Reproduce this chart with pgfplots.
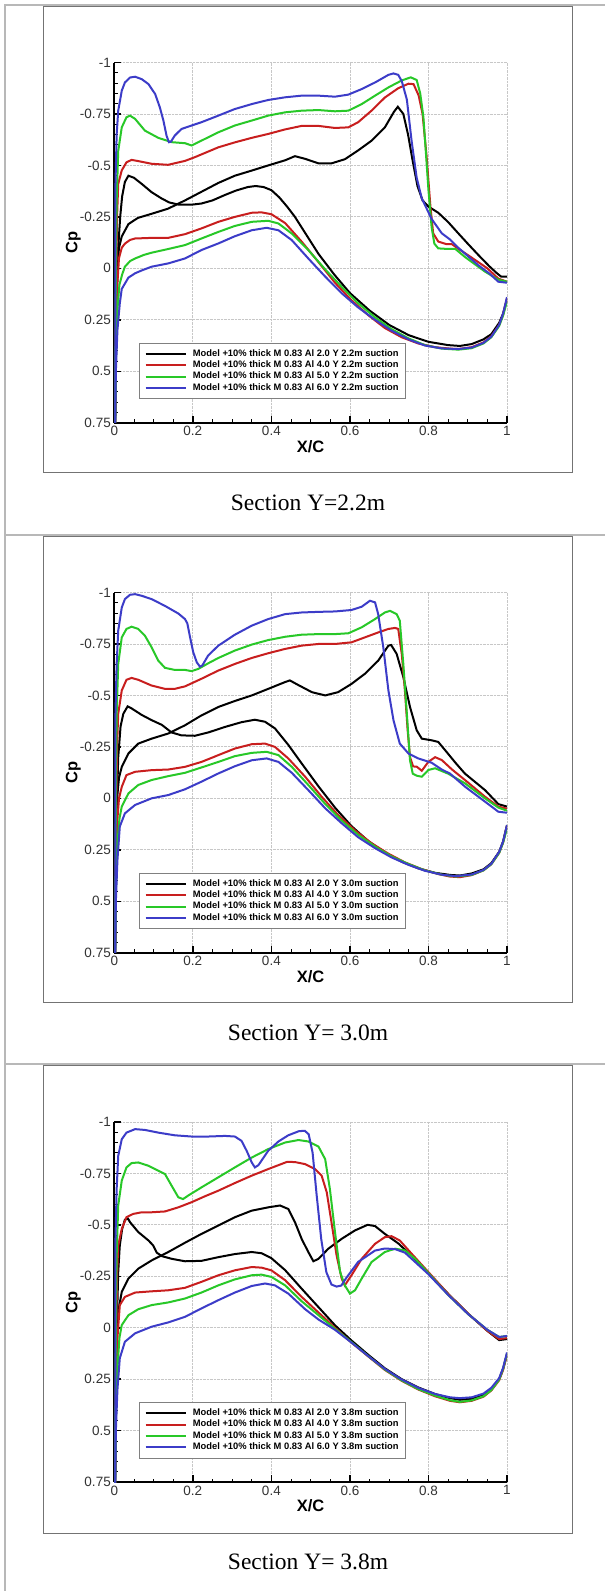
\documentclass[border=0pt]{standalone}
\usepackage{fontspec}
\setmainfont{Liberation Sans}
\newfontfamily\capfont{Liberation Serif}
\usepackage{pgfplots}
\pgfplotsset{compat=1.18}
\definecolor{cpred}{RGB}{200,30,30}
\definecolor{cpgreen}{RGB}{40,200,40}
\definecolor{cpblue}{RGB}{60,60,200}
\pgfplotsset{
  cpaxis/.style={
    scale only axis, width=392.7pt, height=360.2pt,
    xmin=0, xmax=1, ymin=-1, ymax=0.75, y dir=reverse,
    axis lines=left, axis line style={-, line width=2.2pt},
    tick align=inside,
    xtick={0,0.2,0.4,0.6,0.8,1}, xticklabels={0,0.2,0.4,0.6,0.8,1},
    ytick={-1,-0.75,-0.5,-0.25,0,0.25,0.5,0.75},
    yticklabels={-1,-0.75,-0.5,-0.25,0,0.25,0.5,0.75},
    minor x tick num=3, minor y tick num=4,
    major tick length=7pt, minor tick length=3.5pt,
    major tick style={line width=1.5pt, black},
    minor tick style={line width=0.8pt, black},
    grid=major, major grid style={densely dotted, black!22, line width=0.8pt},
    tick label style={font=\fontsize{13.5}{15}\selectfont, text=black!80},
    xlabel={\textbf{X/C}}, ylabel={\textbf{Cp}},
    label style={font=\fontsize{16.5}{18}\selectfont},
    xlabel style={at={(axis description cs:0.5,-0.0652)}, anchor=center},
    ylabel style={at={(axis description cs:-0.1044,0.5)}, anchor=center},
    every axis plot/.append style={line width=2pt},
    legend image code/.code={\draw[#1] (0pt,0pt) -- (40pt,0pt); \path (45pt,0pt);},
    legend cell align=left,
    legend style={at={(axis description cs:0.0637,0.2221)}, anchor=north west,
      draw=black!50, line width=0.6pt, fill=white, inner sep=5pt,
      font=\fontsize{9.36}{11.4}\selectfont\bfseries,
      nodes={inner sep=1.25pt, text height=6.9pt, text depth=2pt}},
  }
}
\begin{document}
\begin{tikzpicture}
\fill[white] (0pt,0pt) rectangle (605pt,-1591pt);
\path[use as bounding box] (0pt,0pt) rectangle (605pt,-1591pt);
% frames
\draw[black!55, line width=0.9pt] (43pt,-6pt) rectangle (572pt,-472.7pt);
\draw[black!55, line width=0.9pt] (43pt,-536pt) rectangle (572pt,-1002.7pt);
\draw[black!55, line width=0.9pt] (43pt,-1065pt) rectangle (572pt,-1533pt);
% table lines
\draw[black!28, line width=2pt] (4pt,-5pt) -- (605pt,-5pt);
\draw[black!28, line width=2pt] (5pt,-4pt) -- (5pt,-1591pt);
\draw[black!28, line width=2pt] (4pt,-535pt) -- (605pt,-535pt);
\draw[black!28, line width=2pt] (4pt,-1064pt) -- (605pt,-1064pt);
% captions
\node[font=\capfont\fontsize{23.5}{28}\selectfont] at (308pt,-503pt) {Section Y=2.2m};
\node[font=\capfont\fontsize{23.5}{28}\selectfont] at (308pt,-1033pt) {Section Y= 3.0m};
\node[font=\capfont\fontsize{23.5}{28}\selectfont] at (308pt,-1562pt) {Section Y= 3.8m};

% ---------------- Panel 1 ----------------
\begin{axis}[cpaxis, at={(310.65pt,-242.6pt)}, anchor=center]
\addplot[black] coordinates {(0.002,0.8) (0.004,0.3) (0.007,0.0) (0.012,-0.1) (0.019,-0.155) (0.036,-0.215) (0.06,-0.245) (0.095,-0.265) (0.137,-0.29) (0.18,-0.33) (0.205,-0.355) (0.265,-0.415) (0.307,-0.45) (0.35,-0.475) (0.392,-0.5) (0.435,-0.525) (0.46,-0.545) (0.486,-0.532) (0.52,-0.51) (0.553,-0.51) (0.587,-0.53) (0.621,-0.573) (0.655,-0.62) (0.689,-0.685) (0.712,-0.76) (0.722,-0.785) (0.736,-0.75) (0.748,-0.65) (0.76,-0.52) (0.772,-0.4) (0.785,-0.33) (0.8,-0.3) (0.825,-0.27) (0.85,-0.225) (0.876,-0.17) (0.9,-0.12) (0.927,-0.065) (0.955,-0.01) (0.975,0.025) (0.985,0.04) (1.0,0.04)};
\addlegendentry{Model +10\% thick M 0.83 Al 2.0 Y 2.2m suction}
\addplot[black, forget plot] coordinates {(0.002,0.8) (0.004,0.4) (0.007,0.1) (0.01,-0.1) (0.015,-0.25) (0.02,-0.35) (0.027,-0.42) (0.036,-0.45) (0.05,-0.44) (0.07,-0.41) (0.095,-0.37) (0.12,-0.34) (0.14,-0.32) (0.163,-0.31) (0.2,-0.31) (0.222,-0.315) (0.25,-0.33) (0.28,-0.355) (0.31,-0.378) (0.34,-0.395) (0.36,-0.4) (0.38,-0.395) (0.4,-0.38) (0.42,-0.345) (0.44,-0.3) (0.46,-0.25) (0.48,-0.19) (0.52,-0.07) (0.56,0.03) (0.6,0.12) (0.65,0.205) (0.7,0.275) (0.75,0.325) (0.8,0.357) (0.85,0.373) (0.88,0.377) (0.91,0.368) (0.94,0.345) (0.96,0.32) (0.98,0.265) (0.99,0.22) (1.0,0.15)};
\addplot[cpred] coordinates {(0.002,0.8) (0.004,0.2) (0.007,-0.25) (0.01,-0.41) (0.019,-0.476) (0.031,-0.515) (0.044,-0.527) (0.061,-0.521) (0.095,-0.508) (0.137,-0.503) (0.18,-0.522) (0.205,-0.54) (0.265,-0.588) (0.307,-0.612) (0.35,-0.634) (0.392,-0.653) (0.435,-0.675) (0.477,-0.692) (0.52,-0.692) (0.562,-0.682) (0.596,-0.685) (0.621,-0.71) (0.655,-0.766) (0.689,-0.83) (0.723,-0.875) (0.749,-0.897) (0.762,-0.895) (0.775,-0.84) (0.785,-0.75) (0.795,-0.55) (0.805,-0.3) (0.812,-0.17) (0.825,-0.13) (0.845,-0.118) (0.86,-0.117) (0.876,-0.095) (0.9,-0.065) (0.927,-0.03) (0.95,0.0) (0.978,0.05) (1.0,0.065)};
\addlegendentry{Model +10\% thick M 0.83 Al 4.0 Y 2.2m suction}
\addplot[cpred, forget plot] coordinates {(0.002,0.8) (0.004,0.4) (0.007,0.1) (0.012,-0.05) (0.019,-0.1) (0.027,-0.12) (0.04,-0.138) (0.053,-0.145) (0.095,-0.148) (0.137,-0.148) (0.18,-0.166) (0.222,-0.194) (0.265,-0.226) (0.307,-0.25) (0.35,-0.27) (0.375,-0.272) (0.4,-0.263) (0.435,-0.22) (0.477,-0.13) (0.52,-0.03) (0.562,0.07) (0.604,0.155) (0.647,0.228) (0.689,0.29) (0.732,0.335) (0.774,0.365) (0.817,0.383) (0.855,0.39) (0.876,0.392) (0.91,0.383) (0.94,0.36) (0.96,0.33) (0.98,0.275) (0.99,0.225) (1.0,0.145)};
\addplot[cpgreen] coordinates {(0.002,0.8) (0.004,0.0) (0.006,-0.33) (0.01,-0.57) (0.019,-0.685) (0.031,-0.734) (0.04,-0.742) (0.053,-0.726) (0.078,-0.669) (0.112,-0.634) (0.146,-0.613) (0.18,-0.608) (0.197,-0.597) (0.214,-0.613) (0.265,-0.661) (0.307,-0.694) (0.35,-0.718) (0.392,-0.742) (0.435,-0.758) (0.477,-0.766) (0.52,-0.769) (0.562,-0.763) (0.596,-0.766) (0.63,-0.798) (0.664,-0.839) (0.698,-0.879) (0.732,-0.913) (0.755,-0.928) (0.77,-0.915) (0.779,-0.85) (0.787,-0.737) (0.793,-0.575) (0.8,-0.38) (0.808,-0.2) (0.815,-0.12) (0.825,-0.097) (0.85,-0.094) (0.868,-0.095) (0.893,-0.055) (0.944,0.016) (0.978,0.055) (1.0,0.065)};
\addlegendentry{Model +10\% thick M 0.83 Al 5.0 Y 2.2m suction}
\addplot[cpgreen, forget plot] coordinates {(0.002,0.8) (0.004,0.45) (0.008,0.2) (0.013,0.08) (0.02,0.03) (0.027,-0.008) (0.04,-0.035) (0.053,-0.048) (0.075,-0.065) (0.095,-0.076) (0.1375,-0.094) (0.18,-0.113) (0.222,-0.145) (0.265,-0.177) (0.307,-0.206) (0.35,-0.226) (0.392,-0.231) (0.418,-0.218) (0.452,-0.169) (0.494,-0.089) (0.537,0.005) (0.579,0.09) (0.621,0.17) (0.664,0.238) (0.706,0.295) (0.749,0.34) (0.791,0.373) (0.834,0.39) (0.876,0.395) (0.91,0.388) (0.94,0.365) (0.96,0.335) (0.98,0.28) (0.99,0.23) (1.0,0.16)};
\addplot[cpblue] coordinates {(0.002,0.8) (0.003,-0.41) (0.006,-0.65) (0.01,-0.766) (0.019,-0.863) (0.027,-0.903) (0.04,-0.927) (0.053,-0.931) (0.07,-0.919) (0.087,-0.895) (0.104,-0.847) (0.116,-0.782) (0.125,-0.718) (0.133,-0.645) (0.139,-0.613) (0.144,-0.615) (0.154,-0.645) (0.171,-0.677) (0.197,-0.694) (0.222,-0.71) (0.265,-0.742) (0.307,-0.774) (0.35,-0.798) (0.392,-0.818) (0.435,-0.831) (0.477,-0.839) (0.52,-0.839) (0.562,-0.834) (0.596,-0.844) (0.63,-0.871) (0.664,-0.903) (0.698,-0.94) (0.711,-0.947) (0.723,-0.94) (0.732,-0.91) (0.745,-0.82) (0.757,-0.62) (0.77,-0.44) (0.783,-0.34) (0.808,-0.24) (0.834,-0.17) (0.855,-0.14) (0.876,-0.1) (0.9,-0.06) (0.927,-0.015) (0.955,0.025) (0.978,0.065) (1.0,0.07)};
\addlegendentry{Model +10\% thick M 0.83 Al 6.0 Y 2.2m suction}
\addplot[cpblue, forget plot] coordinates {(0.002,0.8) (0.004,0.5) (0.008,0.3) (0.014,0.17) (0.019,0.1) (0.036,0.045) (0.053,0.024) (0.07,0.01) (0.095,-0.008) (0.1375,-0.024) (0.18,-0.048) (0.222,-0.089) (0.265,-0.121) (0.307,-0.156) (0.35,-0.185) (0.388,-0.197) (0.418,-0.185) (0.452,-0.137) (0.494,-0.048) (0.537,0.04) (0.579,0.121) (0.621,0.19) (0.664,0.25) (0.706,0.303) (0.749,0.345) (0.791,0.375) (0.834,0.389) (0.876,0.392) (0.91,0.385) (0.94,0.362) (0.96,0.332) (0.98,0.275) (0.99,0.22) (1.0,0.14)};
\end{axis}

% ---------------- Panel 2 ----------------
\begin{axis}[cpaxis, at={(310.65pt,-772.6pt)}, anchor=center]
\addplot[black] coordinates {(0.002,0.8) (0.004,0.3) (0.007,0.0) (0.012,-0.1) (0.019,-0.153) (0.036,-0.218) (0.061,-0.266) (0.095,-0.29) (0.1375,-0.315) (0.18,-0.355) (0.222,-0.403) (0.265,-0.444) (0.307,-0.473) (0.35,-0.5) (0.392,-0.532) (0.435,-0.565) (0.447,-0.573) (0.469,-0.55) (0.503,-0.516) (0.537,-0.5) (0.57,-0.516) (0.604,-0.556) (0.638,-0.605) (0.672,-0.669) (0.698,-0.742) (0.705,-0.745) (0.719,-0.702) (0.736,-0.589) (0.753,-0.444) (0.77,-0.331) (0.783,-0.29) (0.808,-0.282) (0.825,-0.274) (0.842,-0.235) (0.87,-0.17) (0.893,-0.12) (0.944,-0.04) (0.978,0.028) (1.0,0.04)};
\addlegendentry{Model +10\% thick M 0.83 Al 2.0 Y 3.0m suction}
\addplot[black, forget plot] coordinates {(0.002,0.8) (0.004,0.3) (0.007,0.0) (0.01,-0.2) (0.016,-0.35) (0.023,-0.411) (0.034,-0.447) (0.044,-0.437) (0.07,-0.405) (0.095,-0.38) (0.121,-0.357) (0.146,-0.32) (0.171,-0.306) (0.205,-0.304) (0.239,-0.32) (0.282,-0.347) (0.324,-0.37) (0.358,-0.382) (0.384,-0.372) (0.409,-0.34) (0.443,-0.26) (0.477,-0.17) (0.52,-0.058) (0.562,0.045) (0.604,0.135) (0.647,0.208) (0.689,0.262) (0.732,0.308) (0.774,0.34) (0.817,0.362) (0.855,0.372) (0.88,0.375) (0.91,0.365) (0.94,0.345) (0.96,0.315) (0.98,0.26) (0.99,0.21) (1.0,0.13)};
\addplot[cpred] coordinates {(0.002,0.8) (0.004,0.2) (0.007,-0.25) (0.01,-0.411) (0.019,-0.524) (0.031,-0.576) (0.044,-0.585) (0.061,-0.576) (0.095,-0.548) (0.129,-0.532) (0.154,-0.532) (0.18,-0.544) (0.222,-0.581) (0.265,-0.621) (0.307,-0.653) (0.35,-0.682) (0.392,-0.705) (0.435,-0.726) (0.477,-0.742) (0.52,-0.75) (0.562,-0.75) (0.604,-0.758) (0.638,-0.782) (0.672,-0.806) (0.698,-0.823) (0.715,-0.828) (0.723,-0.823) (0.732,-0.702) (0.74,-0.524) (0.747,-0.331) (0.753,-0.2) (0.761,-0.155) (0.77,-0.154) (0.783,-0.134) (0.8,-0.178) (0.817,-0.2) (0.834,-0.186) (0.86,-0.14) (0.893,-0.089) (0.944,-0.008) (0.978,0.04) (1.0,0.05)};
\addlegendentry{Model +10\% thick M 0.83 Al 4.0 Y 3.0m suction}
\addplot[cpred, forget plot] coordinates {(0.002,0.8) (0.004,0.4) (0.008,0.1) (0.012,0.0) (0.019,-0.056) (0.031,-0.113) (0.053,-0.129) (0.095,-0.137) (0.1375,-0.14) (0.18,-0.153) (0.222,-0.177) (0.265,-0.21) (0.307,-0.242) (0.35,-0.263) (0.384,-0.266) (0.409,-0.25) (0.443,-0.194) (0.486,-0.105) (0.528,-0.008) (0.57,0.081) (0.613,0.156) (0.655,0.218) (0.698,0.269) (0.74,0.311) (0.783,0.344) (0.825,0.368) (0.855,0.38) (0.88,0.383) (0.91,0.373) (0.94,0.35) (0.96,0.32) (0.98,0.265) (0.99,0.215) (1.0,0.135)};
\addplot[cpgreen] coordinates {(0.002,0.8) (0.004,0.0) (0.006,-0.41) (0.01,-0.653) (0.019,-0.782) (0.031,-0.823) (0.044,-0.834) (0.061,-0.823) (0.078,-0.79) (0.095,-0.734) (0.112,-0.669) (0.129,-0.634) (0.154,-0.624) (0.18,-0.624) (0.197,-0.618) (0.214,-0.629) (0.239,-0.656) (0.265,-0.682) (0.307,-0.718) (0.35,-0.747) (0.392,-0.769) (0.435,-0.785) (0.477,-0.795) (0.52,-0.798) (0.562,-0.798) (0.596,-0.802) (0.63,-0.831) (0.664,-0.871) (0.689,-0.903) (0.702,-0.911) (0.719,-0.895) (0.727,-0.863) (0.736,-0.653) (0.745,-0.411) (0.753,-0.185) (0.76,-0.12) (0.77,-0.11) (0.783,-0.105) (0.8,-0.138) (0.817,-0.146) (0.85,-0.12) (0.893,-0.073) (0.944,0.0) (0.978,0.045) (1.0,0.06)};
\addlegendentry{Model +10\% thick M 0.83 Al 5.0 Y 3.0m suction}
\addplot[cpgreen, forget plot] coordinates {(0.002,0.8) (0.004,0.45) (0.008,0.22) (0.013,0.1) (0.019,0.04) (0.036,-0.024) (0.061,-0.065) (0.095,-0.089) (0.1375,-0.108) (0.18,-0.124) (0.222,-0.15) (0.265,-0.177) (0.307,-0.205) (0.35,-0.221) (0.388,-0.226) (0.418,-0.21) (0.452,-0.153) (0.494,-0.065) (0.537,0.027) (0.579,0.108) (0.621,0.177) (0.664,0.234) (0.706,0.282) (0.749,0.319) (0.791,0.35) (0.834,0.371) (0.87,0.38) (0.91,0.372) (0.94,0.35) (0.96,0.32) (0.98,0.265) (0.99,0.215) (1.0,0.145)};
\addplot[cpblue] coordinates {(0.002,0.8) (0.003,-0.41) (0.006,-0.653) (0.01,-0.815) (0.019,-0.927) (0.027,-0.968) (0.04,-0.989) (0.053,-0.992) (0.07,-0.984) (0.095,-0.968) (0.129,-0.935) (0.163,-0.898) (0.18,-0.871) (0.186,-0.85) (0.193,-0.782) (0.201,-0.71) (0.21,-0.661) (0.218,-0.64) (0.224,-0.645) (0.239,-0.694) (0.265,-0.742) (0.307,-0.795) (0.35,-0.839) (0.392,-0.871) (0.435,-0.895) (0.477,-0.903) (0.52,-0.906) (0.562,-0.908) (0.604,-0.915) (0.63,-0.931) (0.651,-0.96) (0.664,-0.952) (0.672,-0.895) (0.685,-0.734) (0.698,-0.524) (0.711,-0.379) (0.727,-0.266) (0.749,-0.218) (0.774,-0.194) (0.808,-0.173) (0.834,-0.14) (0.855,-0.12) (0.893,-0.057) (0.944,0.016) (0.978,0.065) (1.0,0.07)};
\addlegendentry{Model +10\% thick M 0.83 Al 6.0 Y 3.0m suction}
\addplot[cpblue, forget plot] coordinates {(0.002,0.8) (0.004,0.5) (0.008,0.3) (0.014,0.137) (0.027,0.073) (0.053,0.032) (0.095,0.0) (0.1375,-0.016) (0.18,-0.044) (0.222,-0.081) (0.265,-0.121) (0.307,-0.156) (0.35,-0.185) (0.388,-0.194) (0.418,-0.177) (0.452,-0.124) (0.494,-0.04) (0.537,0.048) (0.579,0.121) (0.621,0.189) (0.664,0.242) (0.706,0.287) (0.749,0.323) (0.791,0.352) (0.834,0.371) (0.87,0.378) (0.91,0.37) (0.94,0.348) (0.96,0.318) (0.98,0.26) (0.99,0.21) (1.0,0.13)};
\end{axis}

% ---------------- Panel 3 ----------------
\begin{axis}[cpaxis, at={(310.65pt,-1302pt)}, anchor=center]
\addplot[black] coordinates {(0.002,0.8) (0.004,0.3) (0.007,0.0) (0.012,-0.1) (0.019,-0.174) (0.036,-0.239) (0.061,-0.287) (0.095,-0.327) (0.1375,-0.368) (0.18,-0.413) (0.222,-0.456) (0.265,-0.497) (0.307,-0.537) (0.35,-0.569) (0.392,-0.585) (0.422,-0.594) (0.443,-0.577) (0.46,-0.513) (0.477,-0.432) (0.494,-0.368) (0.507,-0.323) (0.52,-0.335) (0.545,-0.384) (0.579,-0.432) (0.613,-0.473) (0.645,-0.5) (0.664,-0.494) (0.689,-0.456) (0.723,-0.41) (0.757,-0.35) (0.8,-0.265) (0.85,-0.165) (0.9,-0.07) (0.95,0.015) (0.98,0.06) (1.0,0.055)};
\addlegendentry{Model +10\% thick M 0.83 Al 2.0 Y 3.8m suction}
\addplot[black, forget plot] coordinates {(0.002,0.8) (0.004,0.3) (0.007,-0.05) (0.01,-0.271) (0.014,-0.4) (0.02,-0.48) (0.027,-0.525) (0.035,-0.53) (0.04,-0.513) (0.061,-0.465) (0.087,-0.424) (0.099,-0.4) (0.108,-0.365) (0.121,-0.348) (0.146,-0.335) (0.18,-0.323) (0.222,-0.325) (0.265,-0.343) (0.307,-0.358) (0.35,-0.368) (0.375,-0.362) (0.4,-0.338) (0.435,-0.28) (0.477,-0.19) (0.52,-0.1) (0.562,-0.012) (0.604,0.062) (0.647,0.132) (0.689,0.197) (0.732,0.25) (0.774,0.29) (0.817,0.322) (0.855,0.342) (0.88,0.35) (0.91,0.345) (0.94,0.325) (0.96,0.3) (0.98,0.25) (0.99,0.2) (1.0,0.13)};
\addplot[cpred] coordinates {(0.002,0.8) (0.004,0.2) (0.007,-0.25) (0.01,-0.4) (0.019,-0.48) (0.031,-0.537) (0.048,-0.553) (0.07,-0.561) (0.095,-0.561) (0.129,-0.565) (0.163,-0.585) (0.197,-0.61) (0.231,-0.639) (0.265,-0.666) (0.307,-0.703) (0.35,-0.739) (0.392,-0.771) (0.44,-0.806) (0.46,-0.805) (0.486,-0.795) (0.511,-0.771) (0.528,-0.739) (0.541,-0.658) (0.553,-0.513) (0.566,-0.352) (0.579,-0.239) (0.587,-0.206) (0.604,-0.255) (0.63,-0.335) (0.664,-0.408) (0.689,-0.44) (0.706,-0.445) (0.727,-0.424) (0.757,-0.36) (0.8,-0.27) (0.85,-0.165) (0.9,-0.07) (0.95,0.015) (0.98,0.055) (1.0,0.05)};
\addlegendentry{Model +10\% thick M 0.83 Al 4.0 Y 3.8m suction}
\addplot[cpred, forget plot] coordinates {(0.002,0.8) (0.004,0.4) (0.008,0.05) (0.014,-0.11) (0.027,-0.15) (0.053,-0.171) (0.095,-0.177) (0.1375,-0.182) (0.18,-0.194) (0.222,-0.223) (0.265,-0.255) (0.307,-0.279) (0.35,-0.295) (0.375,-0.292) (0.4,-0.279) (0.435,-0.231) (0.477,-0.15) (0.52,-0.074) (0.562,0.0) (0.604,0.072) (0.647,0.14) (0.689,0.205) (0.732,0.258) (0.774,0.3) (0.817,0.333) (0.855,0.355) (0.88,0.362) (0.91,0.355) (0.94,0.335) (0.96,0.305) (0.98,0.255) (0.99,0.205) (1.0,0.13)};
\addplot[cpgreen] coordinates {(0.002,0.8) (0.004,0.0) (0.006,-0.352) (0.01,-0.594) (0.019,-0.715) (0.031,-0.779) (0.044,-0.8) (0.061,-0.803) (0.087,-0.787) (0.112,-0.763) (0.129,-0.747) (0.146,-0.69) (0.163,-0.634) (0.175,-0.625) (0.188,-0.642) (0.222,-0.682) (0.265,-0.731) (0.307,-0.779) (0.35,-0.827) (0.392,-0.868) (0.435,-0.9) (0.469,-0.912) (0.494,-0.905) (0.52,-0.88) (0.537,-0.819) (0.549,-0.674) (0.562,-0.465) (0.575,-0.271) (0.587,-0.206) (0.6,-0.166) (0.613,-0.182) (0.63,-0.239) (0.655,-0.319) (0.689,-0.368) (0.715,-0.384) (0.74,-0.376) (0.766,-0.335) (0.8,-0.265) (0.85,-0.16) (0.9,-0.068) (0.95,0.01) (0.98,0.045) (1.0,0.04)};
\addlegendentry{Model +10\% thick M 0.83 Al 5.0 Y 3.8m suction}
\addplot[cpgreen, forget plot] coordinates {(0.002,0.8) (0.004,0.45) (0.008,0.2) (0.013,0.05) (0.019,-0.013) (0.036,-0.061) (0.061,-0.09) (0.095,-0.11) (0.1375,-0.123) (0.18,-0.142) (0.222,-0.171) (0.265,-0.206) (0.307,-0.235) (0.35,-0.255) (0.375,-0.258) (0.4,-0.247) (0.435,-0.206) (0.477,-0.129) (0.52,-0.061) (0.562,0.005) (0.604,0.07) (0.647,0.138) (0.689,0.203) (0.732,0.256) (0.774,0.298) (0.817,0.33) (0.855,0.352) (0.88,0.36) (0.91,0.353) (0.94,0.333) (0.96,0.303) (0.98,0.252) (0.99,0.2) (1.0,0.125)};
\addplot[cpblue] coordinates {(0.002,0.8) (0.003,-0.432) (0.006,-0.674) (0.01,-0.835) (0.019,-0.916) (0.031,-0.948) (0.053,-0.965) (0.078,-0.961) (0.112,-0.948) (0.154,-0.935) (0.197,-0.929) (0.239,-0.929) (0.282,-0.932) (0.307,-0.929) (0.324,-0.908) (0.337,-0.86) (0.35,-0.803) (0.358,-0.779) (0.367,-0.79) (0.392,-0.86) (0.418,-0.905) (0.443,-0.935) (0.47,-0.955) (0.485,-0.957) (0.495,-0.94) (0.505,-0.85) (0.515,-0.65) (0.527,-0.43) (0.54,-0.27) (0.553,-0.21) (0.566,-0.2) (0.578,-0.205) (0.59,-0.24) (0.621,-0.32) (0.664,-0.375) (0.689,-0.385) (0.715,-0.382) (0.74,-0.365) (0.8,-0.26) (0.85,-0.16) (0.9,-0.068) (0.95,0.01) (0.98,0.045) (1.0,0.04)};
\addlegendentry{Model +10\% thick M 0.83 Al 6.0 Y 3.8m suction}
\addplot[cpblue, forget plot] coordinates {(0.002,0.8) (0.004,0.5) (0.008,0.3) (0.014,0.148) (0.027,0.068) (0.053,0.027) (0.095,-0.005) (0.1375,-0.026) (0.18,-0.053) (0.222,-0.094) (0.265,-0.134) (0.307,-0.171) (0.35,-0.203) (0.384,-0.215) (0.409,-0.206) (0.443,-0.166) (0.486,-0.09) (0.52,-0.04) (0.562,0.01) (0.604,0.072) (0.647,0.138) (0.689,0.2) (0.732,0.252) (0.774,0.292) (0.817,0.322) (0.855,0.338) (0.88,0.342) (0.91,0.338) (0.94,0.32) (0.96,0.292) (0.98,0.245) (0.99,0.195) (1.0,0.12)};
\end{axis}
\end{tikzpicture}
\end{document}
